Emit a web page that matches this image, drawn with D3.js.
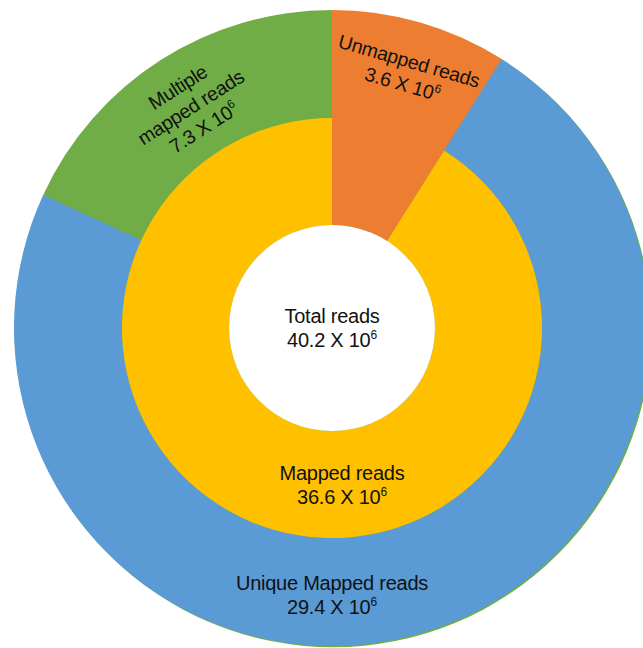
<!DOCTYPE html>
<html>
<head>
<meta charset="utf-8">
<script src="https://cdn.jsdelivr.net/npm/d3@7"></script>
<style>
  html, body { margin: 0; padding: 0; background: #fff; }
  svg { display: block; }
  text { font-family: "Liberation Sans", Arial, sans-serif; fill: #111; }
</style>
</head>
<body>
<svg id="chart" width="643" height="648"></svg>
<script>
// Read counts (millions of reads)
const totalLabel = "Total reads";
const totalValue = 40.2;

const innerNames = ["Unmapped reads", "Mapped reads"];
const innerValues = [3.6, 36.6];

const outerNames = ["Unmapped reads", "Unique Mapped reads", "Multiple mapped reads"];
const outerValues = [3.6, 29.4, 7.3];

const colors = {
  "Unmapped reads": "#ED7D31",
  "Mapped reads": "#FFC000",
  "Unique Mapped reads": "#5B9BD5",
  "Multiple mapped reads": "#70AD47"
};

const W = 643, H = 648;
const cx = 332, cy = 328;
const rHole = 103, rInner = 210, rOuter = 318;

const svg = d3.select("#chart");
const g = svg.append("g").attr("transform", `translate(${cx},${cy})`);

const pie = d3.pie().sort(null).startAngle(0).endAngle(2 * Math.PI);
const innerArcs = pie(innerValues);
const outerArcs = pie(outerValues);

// thin green rim peeking out along the lower-right edge
g.append("circle")
  .attr("cx", 1.2).attr("cy", 1.2).attr("r", rOuter)
  .attr("fill", colors["Multiple mapped reads"]);

// outer ring: unique + multiple mapped reads
const outerArc = d3.arc().innerRadius(rInner).outerRadius(rOuter);
g.selectAll("path.outer")
  .data(outerArcs.filter((d, i) => outerNames[i] !== "Unmapped reads"))
  .join("path")
  .attr("class", "outer")
  .attr("d", outerArc)
  .attr("fill", d => colors[outerNames[d.index]]);

// inner ring: mapped reads
const innerArc = d3.arc().innerRadius(rHole).outerRadius(rInner);
g.selectAll("path.inner")
  .data(innerArcs.filter((d, i) => innerNames[i] === "Mapped reads"))
  .join("path")
  .attr("class", "inner")
  .attr("d", innerArc)
  .attr("fill", d => colors[innerNames[d.index]]);

// unmapped reads span both rings
const unmapped = innerArcs[innerNames.indexOf("Unmapped reads")];
g.append("path")
  .attr("d", d3.arc().innerRadius(rHole).outerRadius(rOuter)(unmapped))
  .attr("fill", colors["Unmapped reads"]);

// centre hole
g.append("circle").attr("r", rHole).attr("fill", "#fff");

// label helper: lines of text, the last one carrying "value X 10^6"
function label(parent, lines, value, lineGap, fontSize) {
  const all = lines.concat([null]);
  const n = all.length;
  all.forEach((line, i) => {
    const y = (i - (n - 1) / 2) * lineGap + fontSize * 0.35;
    const t = parent.append("text")
      .attr("text-anchor", "middle")
      .attr("y", y)
      .attr("font-size", fontSize)
      .attr("letter-spacing", -0.25);
    if (line !== null) {
      t.text(line);
    } else {
      t.append("tspan").text(`${value} X 10`);
      t.append("tspan").text("6").attr("font-size", 12).attr("dy", -8);
    }
  });
}

const deg = a => a * 180 / Math.PI;
const lineGap = 24;

// centre label
label(g.append("g"), [totalLabel], totalValue, lineGap, 20);

// mapped reads label, bottom of the inner ring
label(g.append("g").attr("transform", `translate(10,${(rHole + rInner) / 2})`),
  ["Mapped reads"], innerValues[innerNames.indexOf("Mapped reads")], lineGap, 20);

// unique mapped reads label, bottom of the outer ring
label(g.append("g").attr("transform", `translate(0,${(rInner + rOuter) / 2 + 3})`),
  ["Unique Mapped reads"], outerValues[outerNames.indexOf("Unique Mapped reads")], lineGap, 20);

// unmapped reads label, rotated along its wedge
{
  const a = (unmapped.startAngle + unmapped.endAngle) / 2;
  const r = 266;
  g.append("g")
    .attr("transform", `translate(${r * Math.sin(a)},${-r * Math.cos(a)}) rotate(${deg(a)})`)
    .call(s => label(s, ["Unmapped reads"], unmapped.value, lineGap, 19.5));
}

// multiple mapped reads label, rotated along its wedge
{
  const d = outerArcs[outerNames.indexOf("Multiple mapped reads")];
  const a = (d.startAngle + d.endAngle) / 2;
  const r = 262;
  g.append("g")
    .attr("transform", `translate(${r * Math.sin(a)},${-r * Math.cos(a)}) rotate(${deg(a) - 360})`)
    .call(s => label(s, ["Multiple", "mapped reads"], d.value, lineGap, 19.5));
}
</script>
</body>
</html>
